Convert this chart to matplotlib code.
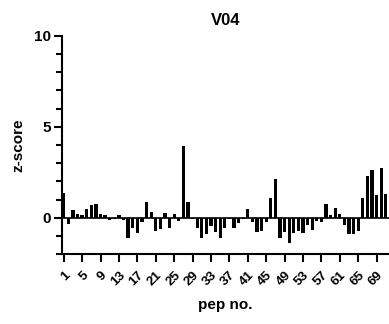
import matplotlib.pyplot as plt
from matplotlib.ticker import MultipleLocator

plt.rcParams['font.family'] = ['Liberation Sans', 'DejaVu Sans']
plt.rcParams['font.weight'] = 'bold'

pep = list(range(1, 72))
zscore = [1.34, -0.37, 0.42, 0.18, 0.15, 0.46, 0.70, 0.73, 0.18, 0.15,
          -0.13, -0.07, 0.15, -0.13, -1.10, -0.59, -0.86, -0.22, 0.88, 0.29,
          -0.73, -0.65, 0.24, -0.59, 0.18, -0.18, 3.95, 0.84, -0.10, -0.59,
          -1.10, -0.92, -0.44, -0.77, -1.10, -0.59, -0.10, -0.59, -0.30, -0.05,
          0.47, -0.22, -0.80, -0.73, -0.22, 1.10, 2.12, -1.10, -0.77, -1.41,
          -0.86, -0.73, -0.86, -0.40, -0.68, -0.18, -0.22, 0.73, 0.15, 0.51,
          0.18, -0.40, -0.90, -0.90, -0.73, 1.11, 2.30, 2.60, 1.24, 2.76,
          1.33]
xtick_vals = list(range(1, 70, 4))

fig = plt.figure(figsize=(3.89, 3.24), dpi=100)
ax = fig.add_axes([0.159, 0.216, 0.841, 0.673])

ax.bar(pep, zscore, width=0.7, color='black')
ax.axhline(0, color='black', lw=1.2)

ax.set_xlim(0.6, 71.7)
ax.set_ylim(-2, 10)
ax.set_xticks(xtick_vals)
ax.set_xticklabels([str(v) for v in xtick_vals], rotation=45, ha='right',
                   rotation_mode='anchor', fontsize=9.5, fontweight='bold')
ax.set_yticks([0, 5, 10])
ax.yaxis.set_minor_locator(MultipleLocator(1))
ax.tick_params(axis='y', which='major', length=6, width=1.5, labelsize=11, pad=2)
ax.tick_params(axis='y', which='minor', length=4, width=1.5)
ax.tick_params(axis='x', which='major', length=6, width=1.5, pad=5)
for lbl in ax.get_yticklabels():
    lbl.set_fontweight('bold')

ax.spines['top'].set_visible(False)
ax.spines['right'].set_visible(False)
ax.spines['left'].set_linewidth(1.5)
ax.spines['bottom'].set_linewidth(1.5)

ax.set_xlabel('pep no.', fontsize=11, fontweight='bold', labelpad=7)
ax.set_ylabel('z-score', fontsize=11, fontweight='bold', labelpad=6)
ax.set_title('V04', fontsize=12, fontweight='bold', pad=8)

fig.savefig('out.png', dpi=100)
